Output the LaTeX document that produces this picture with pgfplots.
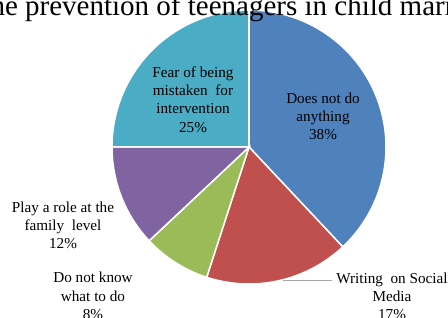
\documentclass[border=0pt]{standalone}
\usepackage{fontspec}
\setmainfont{Liberation Serif}
\usepackage{pgfplots}
\pgfplotsset{compat=1.18}
\usepgfplotslibrary{polar}
\definecolor{cA}{HTML}{4F81BD}
\definecolor{cB}{HTML}{C0504D}
\definecolor{cC}{HTML}{9BBB59}
\definecolor{cD}{HTML}{8064A2}
\definecolor{cE}{HTML}{4BACC6}
% shares in percent
\def\vA{38}% Does not do anything
\def\vB{17}% Writing on Social Media
\def\vC{8}%  Do not know what to do
\def\vD{12}% Play a role at the family level
\def\vE{25}% Fear of being mistaken for intervention
\pgfmathsetmacro\aA{90}
\pgfmathsetmacro\aB{\aA-3.6*\vA}
\pgfmathsetmacro\aC{\aB-3.6*\vB}
\pgfmathsetmacro\aD{\aC-3.6*\vC}
\pgfmathsetmacro\aE{\aD-3.6*\vD}
\pgfmathsetmacro\aF{\aE-3.6*\vE}
\begin{document}
\begin{tikzpicture}
\useasboundingbox (0,0) rectangle (448pt,318pt);
\clip (0,0) rectangle (448pt,318pt);
\begin{polaraxis}[at={(249pt,171pt)}, anchor=center, scale only axis,
  width=274pt, height=274pt, hide axis, xmin=0, xmax=360, ymin=0, ymax=1,
  enlargelimits=false, clip=false]
\addplot[fill=cA, draw=white, line width=1.5pt, domain=\aB:\aA, samples=90] {1} -- (axis cs:0,0) -- cycle;
\addplot[fill=cB, draw=white, line width=1.5pt, domain=\aC:\aB, samples=60] {1} -- (axis cs:0,0) -- cycle;
\addplot[fill=cC, draw=white, line width=1.5pt, domain=\aD:\aC, samples=40] {1} -- (axis cs:0,0) -- cycle;
\addplot[fill=cD, draw=white, line width=1.5pt, domain=\aE:\aD, samples=40] {1} -- (axis cs:0,0) -- cycle;
\addplot[fill=cE, draw=white, line width=1.5pt, domain=\aF:\aE, samples=60] {1} -- (axis cs:0,0) -- cycle;
\end{polaraxis}
\draw[color=black!35, line width=0.8pt] (283pt,38pt) -- (332pt,38pt);
\begin{scope}[every node/.style={inner sep=0pt, align=center, font=\fontsize{15.2}{18.3}\selectfont}]
\node at (323pt,201.5pt) {Does not do\\anything\\38\%};
\node at (193pt,218.5pt) {Fear of being\\mistaken\ \ for\\intervention\\25\%};
\node at (63pt,92.5pt) {Play a role at the\\family\ \ level\\12\%};
\node at (93pt,22pt) {Do not know\\what to do\\8\%};
\node at (392pt,21.5pt) {Writing\ \ on Social\\Media\\17\%};
\end{scope}
\node[inner sep=0pt, anchor=base west, font=\fontsize{29}{33}\selectfont] at (-17.7pt,302pt) {the prevention of teenagers in child marriage};
\end{tikzpicture}
\end{document}
